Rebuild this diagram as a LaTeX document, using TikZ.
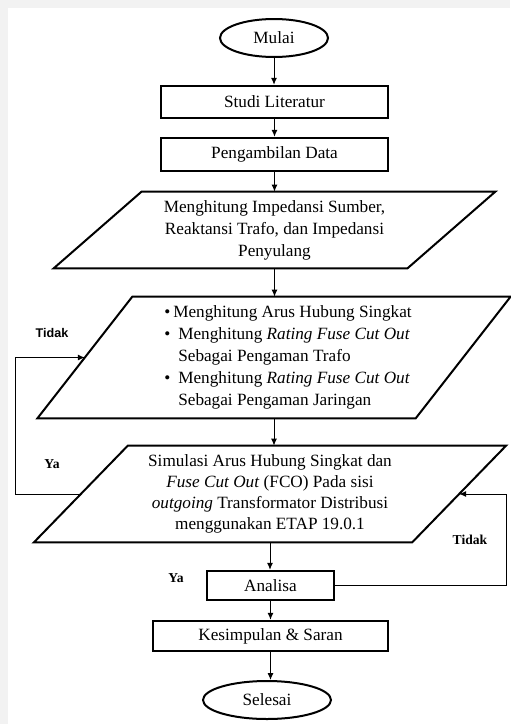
\documentclass[tikz,border=0pt]{standalone}
\usepackage{fontspec}
\setmainfont{Liberation Serif}
\setsansfont{Liberation Sans}
\usetikzlibrary{shapes.geometric,arrows.meta}

\begin{document}
\begin{tikzpicture}[x=0.5pt,y=-0.5pt,
    >={Latex[length=3.5pt,width=3pt]},
    txt/.style={font=\fontsize{8.6}{11}\selectfont},
    startstop/.style={ellipse,draw,line width=1pt,txt,inner sep=0pt},
    process/.style={rectangle,draw,line width=1.2pt,txt,inner sep=0pt},
    iobox/.style={rectangle,txt,inner sep=1pt,align=center},
    para/.style={line width=1pt,line join=miter},
    lblsans/.style={font=\sffamily\bfseries\fontsize{6.3}{7}\selectfont,inner sep=0pt},
    lblserif/.style={font=\bfseries\fontsize{6.8}{7}\selectfont,inner sep=0pt},
    conn/.style={->,line width=0.5pt}]
  \fill[black!5] (0,0) rectangle (510,724);
  \fill[white] (8,8) rectangle (510,724);
  \useasboundingbox (0,0) rectangle (510,724);

  \node[startstop,minimum width=54pt,minimum height=19pt] (mulai) at (274,38) {Mulai};
  \node[process,minimum width=113.5pt,minimum height=16pt] (studi) at (274.5,102) {Studi Literatur};
  \node[process,minimum width=113.5pt,minimum height=16.5pt] (data) at (274.5,154.5) {Pengambilan Data};

  \node[iobox,minimum width=176.5pt,minimum height=38pt] (hitung) at (274.5,230)
    {Menghitung Impedansi Sumber,\\Reaktansi Trafo, dan Impedansi\\Penyulang};
  \draw[para] ([xshift=22pt]hitung.north west) -- ([xshift=22pt]hitung.north east)
    -- ([xshift=-22pt]hitung.south east) -- ([xshift=-22pt]hitung.south west) -- cycle;

  \node[iobox,minimum width=188.75pt,minimum height=60.5pt] (rating) at (274,357.5)
    {\hspace{14pt}\begin{tabular}{@{}l@{\hspace{4pt}}l@{}}
      \textbullet & \hspace{-2.5pt}Menghitung Arus Hubung Singkat\\
      \textbullet & Menghitung \textit{Rating Fuse Cut Out}\\
                  & Sebagai Pengaman Trafo\\
      \textbullet & Menghitung \textit{Rating Fuse Cut Out}\\
                  & Sebagai Pengaman Jaringan
    \end{tabular}};
  \draw[para] ([xshift=23.75pt]rating.north west) -- ([xshift=23.75pt]rating.north east)
    -- ([xshift=-23.75pt]rating.south east) -- ([xshift=-23.75pt]rating.south west) -- cycle;

  \node[iobox,minimum width=188.75pt,minimum height=48pt,
    font=\fontsize{8.6}{10.5}\selectfont] (simulasi) at (270,494)
    {Simulasi Arus Hubung Singkat dan\\\textit{Fuse Cut Out} (FCO) Pada sisi\\
     \textit{outgoing} Transformator Distribusi\\menggunakan ETAP 19.0.1};
  \draw[para] ([xshift=23.5pt]simulasi.north west) -- ([xshift=23.5pt]simulasi.north east)
    -- ([xshift=-23.5pt]simulasi.south east) -- ([xshift=-23.5pt]simulasi.south west) -- cycle;

  \node[process,minimum width=63.5pt,minimum height=14.5pt] (analisa) at (270.5,585.5) {Analisa};
  \node[process,minimum width=117.5pt,minimum height=15pt] (simpul) at (270.5,636) {Kesimpulan \& Saran};
  \node[startstop,minimum width=64pt,minimum height=19pt] (selesai) at (267,700) {Selesai};

  \node[lblsans] (tidakkiri) at (52,333) {Tidak};
  \node[lblserif] (yakiri) at (52,464) {Ya};
  \node[lblserif] (tidakkanan) at (470,540) {Tidak};
  \node[lblserif] (yabawah) at (176,578) {Ya};

  \draw[conn] (mulai.south) -- (mulai.south |- studi.north);
  \draw[conn] (studi.south) -- (studi.south |- data.north);
  \draw[conn] (data.south) -- (data.south |- hitung.north);
  \draw[conn] (hitung.south) -- (hitung.south |- rating.north);
  \draw[conn] (rating.south) -- (rating.south |- simulasi.north);
  \draw[conn] (simulasi.south) -- (simulasi.south |- analisa.north);
  \draw[conn] (analisa.south) -- (analisa.south |- simpul.north);
  \draw[conn] (simpul.south) -- (simpul.south |- selesai.north);
  \draw[conn] (simulasi.west) -- ++(-65,0) |- (rating.west);
  \draw[conn] (analisa.east) -- ++(171,0) |- (simulasi.east);
\end{tikzpicture}
\end{document}
